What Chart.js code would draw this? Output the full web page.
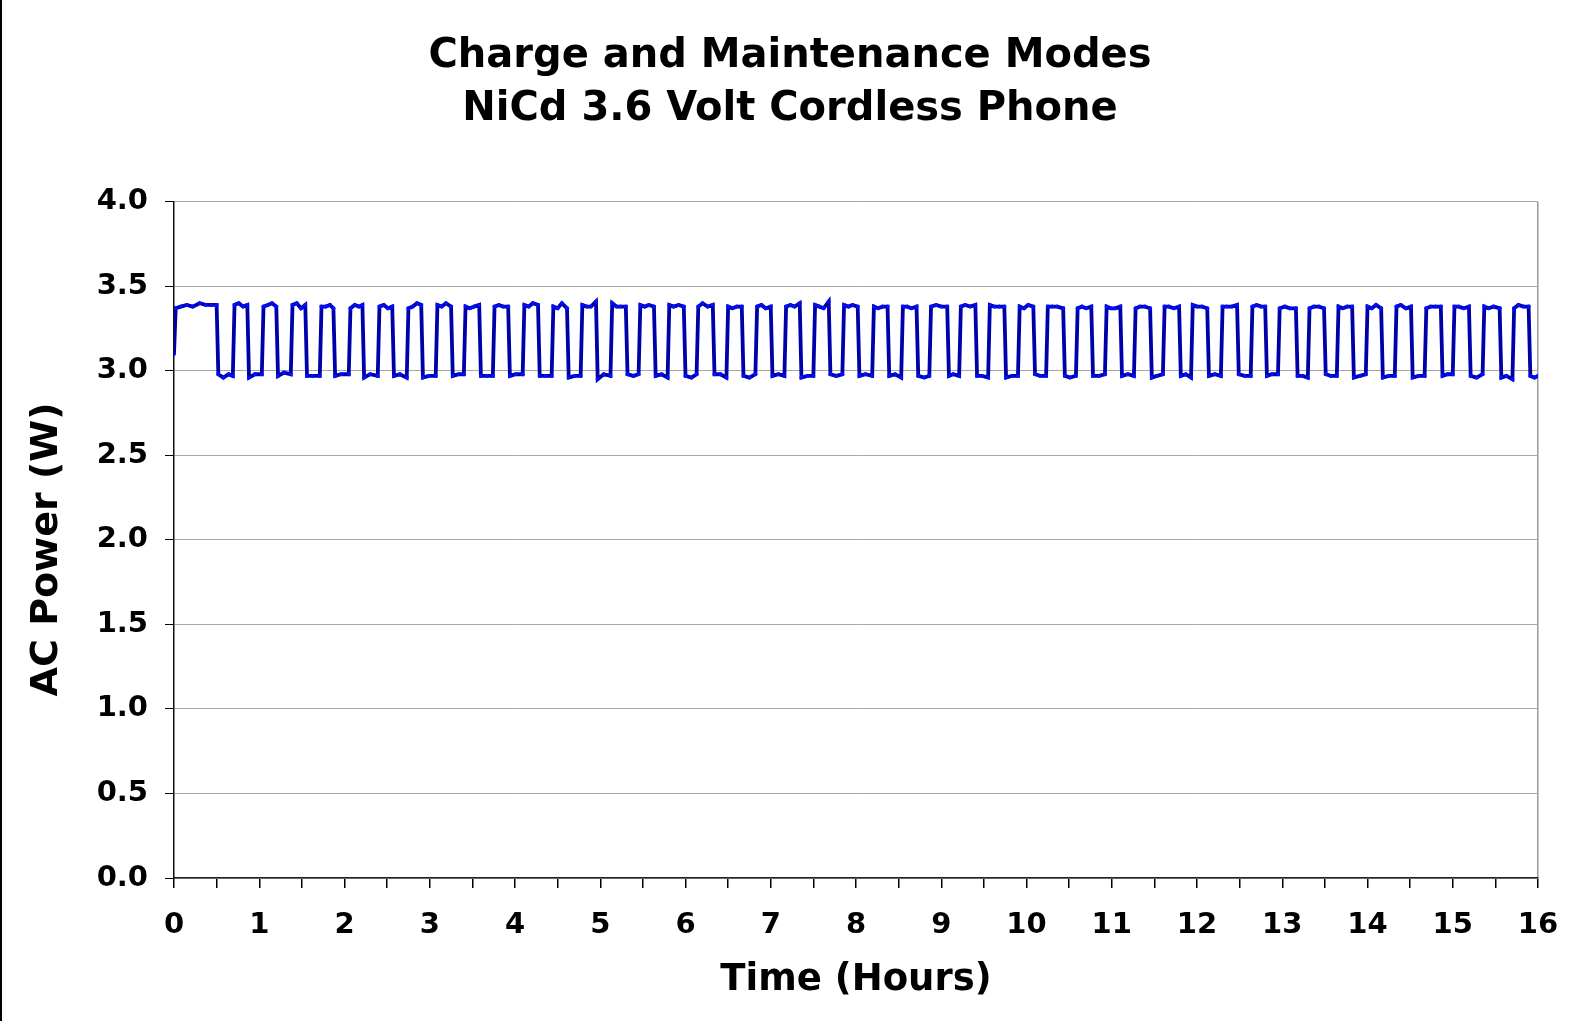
<!DOCTYPE html>
<html>
<head>
<meta charset="utf-8">
<title>Charge and Maintenance Modes</title>
<script src="https://cdn.jsdelivr.net/npm/chart.js@4.4.1/dist/chart.umd.min.js"></script>
<style>
  html, body { margin: 0; padding: 0; background: #fff; }
  canvas { display: block; }
</style>
</head>
<body>
<canvas id="powerChart" width="1580" height="1021"></canvas>
<script>
// Logged AC power of the charger, hours vs watts (one row per charge pulse)
const hours = [
  0, 0.02, 0.08, 0.15, 0.22, 0.30, 0.37, 0.44, 0.50, 0.52, 0.58, 0.64,
  0.69, 0.71, 0.76, 0.81, 0.86, 0.88, 0.95,
  1.03, 1.05, 1.10, 1.15, 1.20, 1.22, 1.29,
  1.37, 1.39, 1.44, 1.49, 1.54, 1.56, 1.63,
  1.71, 1.73, 1.78, 1.83, 1.87, 1.89, 1.96,
  2.05, 2.07, 2.12, 2.17, 2.21, 2.23, 2.30,
  2.39, 2.41, 2.46, 2.51, 2.56, 2.58, 2.65,
  2.73, 2.75, 2.80, 2.85, 2.90, 2.92, 2.99,
  3.07, 3.09, 3.14, 3.19, 3.25, 3.27, 3.34,
  3.40, 3.42, 3.47, 3.52, 3.58, 3.60, 3.67,
  3.74, 3.76, 3.81, 3.86, 3.92, 3.94, 4.01,
  4.09, 4.11, 4.16, 4.21, 4.27, 4.29, 4.36,
  4.43, 4.45, 4.50, 4.55, 4.61, 4.63, 4.70,
  4.77, 4.79, 4.84, 4.89, 4.95, 4.97, 5.04,
  5.12, 5.14, 5.19, 5.24, 5.30, 5.32, 5.39,
  5.45, 5.47, 5.52, 5.57, 5.63, 5.65, 5.72,
  5.79, 5.81, 5.86, 5.92, 5.98, 6.00, 6.07,
  6.13, 6.15, 6.20, 6.26, 6.32, 6.34, 6.41,
  6.48, 6.50, 6.55, 6.60, 6.66, 6.68, 6.75,
  6.82, 6.84, 6.89, 6.94, 7.00, 7.02, 7.09,
  7.16, 7.18, 7.23, 7.28, 7.34, 7.36, 7.43,
  7.50, 7.52, 7.57, 7.62, 7.68, 7.70, 7.77,
  7.84, 7.86, 7.91, 7.96, 8.02, 8.04, 8.11,
  8.19, 8.21, 8.26, 8.31, 8.37, 8.39, 8.46,
  8.53, 8.55, 8.60, 8.65, 8.71, 8.73, 8.80,
  8.86, 8.88, 8.94, 9.00, 9.07, 9.09, 9.14,
  9.21, 9.23, 9.28, 9.34, 9.40, 9.42, 9.48,
  9.55, 9.57, 9.62, 9.68, 9.74, 9.76, 9.83,
  9.90, 9.92, 9.97, 10.02, 10.08, 10.10, 10.16,
  10.23, 10.25, 10.30, 10.36, 10.43, 10.45, 10.51,
  10.58, 10.60, 10.65, 10.70, 10.76, 10.78, 10.85,
  10.92, 10.94, 10.99, 11.04, 11.10, 11.12, 11.19,
  11.26, 11.28, 11.33, 11.39, 11.45, 11.47, 11.53,
  11.60, 11.62, 11.67, 11.73, 11.79, 11.81, 11.87,
  11.93, 11.95, 12.00, 12.06, 12.12, 12.14, 12.21,
  12.28, 12.30, 12.35, 12.41, 12.47, 12.49, 12.56,
  12.63, 12.65, 12.70, 12.75, 12.80, 12.82, 12.88,
  12.95, 12.97, 13.03, 13.09, 13.16, 13.18, 13.24,
  13.30, 13.32, 13.37, 13.43, 13.49, 13.51, 13.57,
  13.64, 13.66, 13.71, 13.76, 13.82, 13.84, 13.91,
  13.98, 14.00, 14.05, 14.10, 14.16, 14.18, 14.25,
  14.32, 14.34, 14.39, 14.45, 14.51, 14.53, 14.60,
  14.67, 14.69, 14.74, 14.80, 14.86, 14.88, 14.94,
  15.00, 15.02, 15.07, 15.13, 15.19, 15.21, 15.28,
  15.35, 15.37, 15.42, 15.48, 15.55, 15.57, 15.63,
  15.70, 15.72, 15.77, 15.83, 15.89, 15.91, 15.96,
  16.00
];

const watts = [
  3.10, 3.37, 3.38, 3.39, 3.38, 3.40, 3.39, 3.39, 3.39, 2.98, 2.96, 2.98,
  2.97, 3.39, 3.40, 3.38, 3.39, 2.96, 2.98,
  2.98, 3.38, 3.39, 3.40, 3.38, 2.97, 2.99,
  2.98, 3.39, 3.40, 3.37, 3.39, 2.97, 2.97,
  2.97, 3.38, 3.38, 3.39, 3.37, 2.97, 2.98,
  2.98, 3.37, 3.39, 3.38, 3.39, 2.96, 2.98,
  2.97, 3.38, 3.39, 3.37, 3.38, 2.97, 2.98,
  2.96, 3.37, 3.38, 3.40, 3.39, 2.96, 2.97,
  2.97, 3.39, 3.38, 3.40, 3.38, 2.97, 2.98,
  2.98, 3.38, 3.37, 3.38, 3.39, 2.97, 2.97,
  2.97, 3.38, 3.39, 3.38, 3.38, 2.97, 2.98,
  2.98, 3.39, 3.38, 3.40, 3.39, 2.97, 2.97,
  2.97, 3.38, 3.37, 3.40, 3.37, 2.96, 2.97,
  2.97, 3.39, 3.38, 3.38, 3.41, 2.95, 2.98,
  2.97, 3.40, 3.38, 3.38, 3.38, 2.98, 2.97,
  2.98, 3.39, 3.38, 3.39, 3.38, 2.97, 2.98,
  2.96, 3.39, 3.38, 3.39, 3.38, 2.97, 2.96,
  2.98, 3.38, 3.40, 3.38, 3.39, 2.98, 2.98,
  2.96, 3.38, 3.37, 3.38, 3.38, 2.97, 2.96,
  2.98, 3.38, 3.39, 3.37, 3.38, 2.97, 2.98,
  2.97, 3.38, 3.39, 3.38, 3.40, 2.96, 2.97,
  2.97, 3.39, 3.38, 3.37, 3.41, 2.98, 2.97,
  2.98, 3.39, 3.38, 3.39, 3.38, 2.97, 2.98,
  2.97, 3.38, 3.37, 3.38, 3.38, 2.97, 2.98,
  2.96, 3.38, 3.38, 3.37, 3.38, 2.97, 2.96,
  2.97, 3.38, 3.39, 3.38, 3.38, 2.97, 2.98,
  2.97, 3.38, 3.39, 3.38, 3.39, 2.97, 2.97,
  2.96, 3.39, 3.38, 3.38, 3.38, 2.96, 2.97,
  2.97, 3.38, 3.37, 3.39, 3.38, 2.98, 2.97,
  2.97, 3.38, 3.38, 3.38, 3.37, 2.97, 2.96,
  2.97, 3.37, 3.38, 3.37, 3.38, 2.97, 2.97,
  2.98, 3.38, 3.37, 3.37, 3.38, 2.97, 2.98,
  2.97, 3.37, 3.38, 3.38, 3.37, 2.96, 2.97,
  2.98, 3.38, 3.38, 3.37, 3.38, 2.97, 2.98,
  2.96, 3.39, 3.38, 3.38, 3.37, 2.97, 2.98,
  2.97, 3.38, 3.38, 3.38, 3.39, 2.98, 2.97,
  2.97, 3.38, 3.39, 3.38, 3.38, 2.97, 2.98,
  2.98, 3.37, 3.38, 3.37, 3.37, 2.97, 2.97,
  2.96, 3.37, 3.38, 3.38, 3.37, 2.98, 2.97,
  2.97, 3.38, 3.37, 3.38, 3.38, 2.96, 2.97,
  2.98, 3.38, 3.37, 3.39, 3.37, 2.96, 2.97,
  2.97, 3.38, 3.39, 3.37, 3.38, 2.96, 2.97,
  2.97, 3.37, 3.38, 3.38, 3.38, 2.97, 2.98,
  2.98, 3.38, 3.38, 3.37, 3.38, 2.97, 2.96,
  2.98, 3.38, 3.37, 3.38, 3.37, 2.96, 2.97,
  2.95, 3.37, 3.39, 3.38, 3.38, 2.97, 2.96,
  2.97
];

const titleLines = ['Charge and Maintenance Modes', 'NiCd 3.6 Volt Cordless Phone'];
const xTitle = 'Time (Hours)';
const yTitle = 'AC Power (W)\u2002';

const FONT = "'DejaVu Sans', Verdana, sans-serif";

const points = hours.map(function(h, i) { return { x: h, y: watts[i] }; });

// thin black rule down the left edge of the picture
const leftRule = {
  id: 'leftRule',
  afterDraw: function(chart) {
    const c = chart.ctx;
    c.save();
    c.fillStyle = '#000';
    c.fillRect(0, 0, 2, chart.height);
    c.restore();
  }
};

new Chart(document.getElementById('powerChart'), {
  type: 'line',
  data: {
    datasets: [{
      data: points,
      borderColor: '#0000a8',
      borderWidth: 3.8,
      pointRadius: 2,
      pointBorderWidth: 0,
      pointBackgroundColor: '#0010ff',
      tension: 0,
      fill: false
    }]
  },
  options: {
    responsive: false,
    animation: false,
    devicePixelRatio: 1,
    layout: { padding: 0 },
    plugins: {
      legend: { display: false },
      tooltip: { enabled: false },
      title: {
        display: true,
        text: titleLines,
        color: '#000',
        font: { family: FONT, size: 40, weight: 'bold', lineHeight: 1.335 },
        padding: { top: 30, bottom: 65 }
      }
    },
    scales: {
      x: {
        type: 'linear',
        min: 0,
        max: 16,
        afterFit: function(s) { s.height = 143; },
        ticks: {
          stepSize: 0.5,
          autoSkip: false,
          maxRotation: 0,
          padding: 20,
          color: '#000',
          font: { family: FONT, size: 29, weight: 'bold' },
          callback: function(v) { return Number.isInteger(v) ? String(v) : ''; }
        },
        grid: {
          drawOnChartArea: true,
          color: function(ctx) { return ctx.tick && ctx.tick.value === 16 ? '#9a9a9a' : 'rgba(0,0,0,0)'; },
          tickColor: '#000',
          tickLength: 10,
          lineWidth: 1.5
        },
        border: { color: '#222', width: 1.5 },
        title: {
          display: true,
          text: xTitle,
          color: '#000',
          font: { family: FONT, size: 37, weight: 'bold' },
          padding: { top: 0, bottom: 18 }
        }
      },
      y: {
        min: 0,
        max: 4,
        afterFit: function(s) { s.width = 174; },
        ticks: {
          stepSize: 0.5,
          padding: 17,
          color: '#000',
          font: { family: FONT, size: 29, weight: 'bold' },
          callback: function(v) { return v.toFixed(1); }
        },
        grid: {
          color: '#a8a8a8',
          tickColor: '#000',
          tickLength: 9,
          lineWidth: 1
        },
        border: { color: '#111', width: 1.5 },
        title: {
          display: true,
          text: yTitle,
          color: '#000',
          font: { family: FONT, size: 38, weight: 'bold' },
          padding: { top: 24, bottom: 0 }
        }
      },
      // empty right-hand strip so the title stays centred on the whole picture
      yRight: {
        position: 'right',
        display: true,
        min: 0,
        max: 4,
        afterFit: function(s) { s.width = 42; },
        ticks: { display: false },
        grid: { display: false },
        border: { display: false }
      }
    }
  },
  plugins: [leftRule]
});
</script>
</body>
</html>
